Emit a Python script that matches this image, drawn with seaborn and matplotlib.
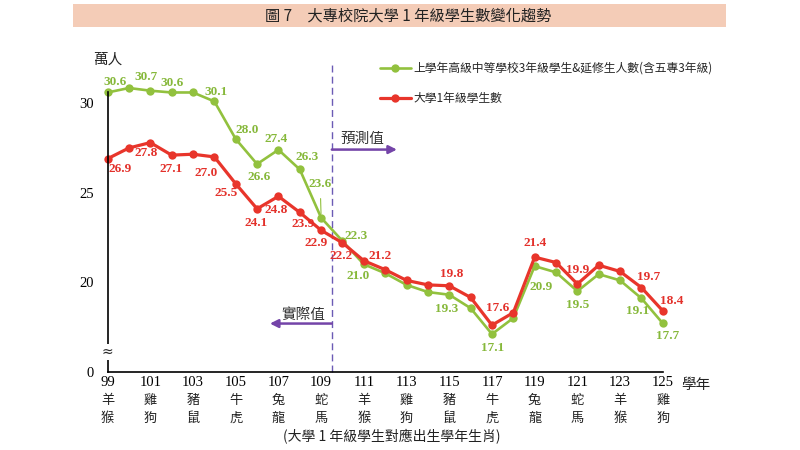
import pandas as pd
import matplotlib.pyplot as plt
import seaborn as sns
from matplotlib.patches import Rectangle
from matplotlib.font_manager import FontProperties

# Data: school year (ROC) vs. students (10k)
years = list(range(99, 126))
senior_g3 = [30.6, 30.85, 30.7, 30.6, 30.6, 30.1, 28.0, 26.6, 27.4, 26.3, 23.6,
             22.3, 21.0, 20.5, 19.85, 19.45, 19.3, 18.55, 17.1, 18.0, 20.9,
             20.55, 19.5, 20.45, 20.1, 19.1, 17.7]
univ_y1 = [26.9, 27.5, 27.8, 27.1, 27.15, 27.0, 25.5, 24.1, 24.8, 23.9, 22.9,
           22.2, 21.2, 20.7, 20.1, 19.85, 19.8, 19.15, 17.6, 18.3, 21.4,
           21.1, 19.9, 20.95, 20.6, 19.7, 18.4]
forecast_start = 110

tick_years = list(range(99, 126, 2))
zodiac_top = ['羊', '雞', '豬', '牛', '兔', '蛇', '羊', '雞', '豬', '牛', '兔', '蛇', '羊', '雞']
zodiac_bottom = ['猴', '狗', '鼠', '虎', '龍', '馬', '猴', '狗', '鼠', '虎', '龍', '馬', '猴', '狗']

senior_label = '上學年高級中等學校3年級學生&延修生人數(含五專3年級)'
univ_label = '大學1年級學生數'

# label offsets in pixels (dx, dy up), keyed by year
green_offsets = {99: (7, 10), 101: (-4, 14), 102: (0, 9), 104: (2, 9), 105: (11, 9),
                 106: (2, -13), 107: (-2, 11), 108: (7, 12), 109: (-1, 34), 110: (14, 5),
                 111: (-6, -12), 115: (-3, -14), 117: (1, -14), 119: (6, -21),
                 121: (0, -14), 124: (-4, -13), 125: (5, -13)}
red_offsets = {99: (13, -10), 101: (-4, -10), 102: (-1, -14), 104: (-8, -16), 105: (-10, -9),
               106: (-1, -14), 107: (-2, -14), 108: (3, -12), 109: (-5, -13), 110: (-1, -13),
               111: (16, 5), 115: (2, 12), 117: (6, 17), 119: (0, 14), 121: (0, 14),
               124: (7, 11), 125: (9, 10)}

GREEN = '#92c13e'
GREEN_TXT = '#86b83a'
RED = '#e8352b'
RED_TXT = '#e3302a'
PURPLE = '#7444a8'

df = pd.DataFrame({'year': years, 'senior': senior_g3, 'univ': univ_y1})

sns.set_theme(style='white')
plt.rcParams['font.family'] = ['Noto Sans CJK TC', 'DejaVu Sans']
serif = ['Liberation Serif', 'DejaVu Serif']

fig, ax = plt.subplots(figsize=(8, 4.5), dpi=100)
ax.set_position([0.1345, 0.174, 0.694, 0.6364])

sns.lineplot(data=df, x='year', y='senior', color=GREEN, marker='o', markersize=6,
             markeredgewidth=0, linewidth=1.9, ax=ax, label=senior_label, clip_on=False)
sns.lineplot(data=df, x='year', y='univ', color=RED, marker='o', markersize=6,
             markeredgewidth=0, linewidth=2.3, ax=ax, label=univ_label, clip_on=False)

ax.set_xlim(99, 125)
ax.set_ylim(15, 31)
ax.set_xlabel('')
ax.set_ylabel('')

# data labels
for offsets, values, col in [(green_offsets, senior_g3, GREEN_TXT), (red_offsets, univ_y1, RED_TXT)]:
    for yr, (dx, dy) in offsets.items():
        v = values[years.index(yr)]
        kw = {}
        if col == GREEN_TXT and yr == 109:
            kw['arrowprops'] = dict(arrowstyle='-', color=GREEN, lw=0.8, shrinkA=4, shrinkB=3)
        ax.annotate(f'{v:.1f}', xy=(yr, v), xytext=(dx, dy), textcoords='offset pixels',
                    ha='center', va='center', color=col, fontsize=9.5, weight='bold',
                    family=serif, **kw)

# axes styling
for s in ['top', 'right']:
    ax.spines[s].set_visible(False)
for s in ['left', 'bottom']:
    ax.spines[s].set_color('black')
    ax.spines[s].set_linewidth(1.2)
ax.spines['left'].set_bounds(15, 30.65)

ax.set_xticks(tick_years)
ax.set_xticks(years, minor=True)
ax.set_xticklabels([str(y) for y in tick_years], family=serif, fontsize=10.5)
ax.set_yticks([15, 20, 25, 30])
ax.set_yticklabels(['0', '20', '25', '30'], family=serif, fontsize=10.5)
ax.tick_params(axis='x', which='both', direction='in', length=4, width=1, color='black', pad=3)
ax.tick_params(axis='y', direction='in', length=4, width=1, color='black', pad=10)
ax.tick_params(colors='black', which='both')

for yr, t, b in zip(tick_years, zodiac_top, zodiac_bottom):
    ax.annotate(t, xy=(yr, 0), xycoords=('data', 'axes fraction'), xytext=(0, -29),
                textcoords='offset pixels', ha='center', va='center', fontsize=9.5, color='#222222')
    ax.annotate(b, xy=(yr, 0), xycoords=('data', 'axes fraction'), xytext=(0, -47),
                textcoords='offset pixels', ha='center', va='center', fontsize=9.5, color='#222222')

# axis break mark
ax.text(99, 16.1, '≈', ha='center', va='center', fontsize=10, family='DejaVu Sans',
        bbox=dict(facecolor='white', edgecolor='none', pad=0.5), clip_on=False, zorder=5)

# actual / forecast divider
div_x = forecast_start - 0.5
ax.plot([div_x, div_x], [15, 32.2], color='#6b5bb5', lw=1, ls=(0, (5, 3)), clip_on=False, zorder=1)
ax.annotate('', xy=(112.55, 27.41), xytext=(div_x, 27.41),
            arrowprops=dict(arrowstyle='-|>', color=PURPLE, lw=1.8, mutation_scale=12,
                            shrinkA=0, shrinkB=0))
ax.text(109.9, 27.98, '預測值', ha='left', va='center', fontsize=10.5, color='#333333')
ax.annotate('', xy=(106.6, 17.69), xytext=(div_x, 17.69),
            arrowprops=dict(arrowstyle='-|>', color=PURPLE, lw=1.8, mutation_scale=12,
                            shrinkA=0, shrinkB=0))
ax.text(109.18, 18.15, '實際值', ha='right', va='center', fontsize=10.5, color='#333333')

# legend
handles, labels = ax.get_legend_handles_labels()
ax.legend(handles, labels, loc='upper left', bbox_to_anchor=(380 / 800, 1 - 62 / 450),
          bbox_transform=fig.transFigure, frameon=False, handlelength=2.6, handletextpad=0.2,
          labelspacing=1.45, borderpad=0, borderaxespad=0,
          prop=FontProperties(family=['Noto Sans CJK TC', 'DejaVu Sans'], size=8.5))

# title banner and outer texts
fig.patches.append(Rectangle((73 / 800, 1 - 27 / 450), 653 / 800, 23 / 450,
                             transform=fig.transFigure, facecolor='#f4ccb7', edgecolor='none'))
fig.text(408 / 800, 1 - 16 / 450, '圖 7　大專校院大學 1 年級學生數變化趨勢',
         ha='center', va='center', fontsize=11, color='#222222')
fig.text(107.5 / 800, 1 - 60 / 450, '萬人', ha='center', va='center', fontsize=10.5, color='#222222')
fig.text(696 / 800, 1 - 385 / 450, '學年', ha='center', va='center', fontsize=10.5, color='#222222')
fig.text(392 / 800, 1 - 437 / 450, '(大學 1 年級學生對應出生學年生肖)', ha='center', va='center',
         fontsize=10, color='#222222')

fig.savefig('out.png', dpi=100)
